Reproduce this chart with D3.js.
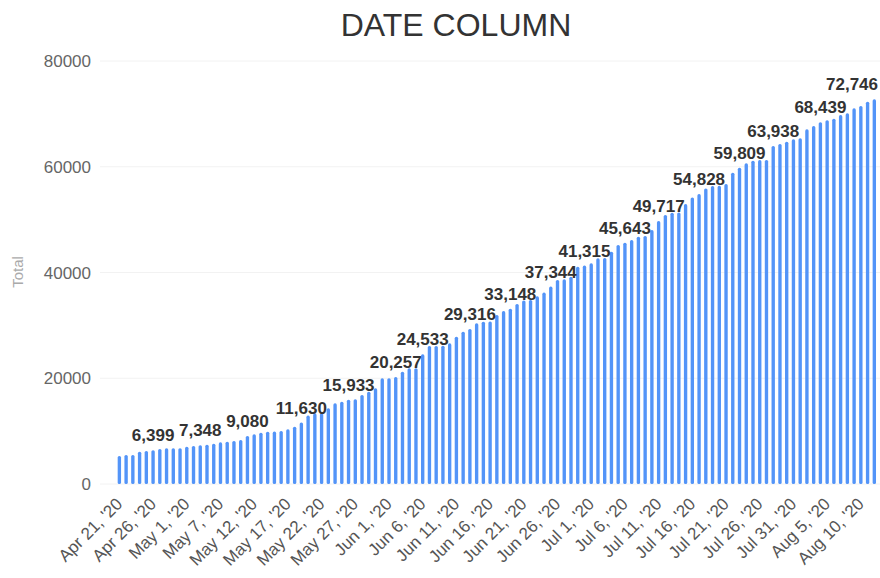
<!DOCTYPE html>
<html>
<head>
<meta charset="utf-8">
<script src="https://cdn.jsdelivr.net/npm/d3@7"></script>
<style>
  body { margin: 0; background: #fff; font-family: "Liberation Sans", Arial, sans-serif; }
</style>
</head>
<body>
<div id="chart"></div>
<script>
var days = [
  "Apr 21, '20","Apr 22, '20","Apr 23, '20","Apr 24, '20","Apr 25, '20","Apr 26, '20","Apr 27, '20","Apr 28, '20","Apr 29, '20","Apr 30, '20",
  "May 1, '20","May 2, '20","May 3, '20","May 5, '20","May 6, '20","May 7, '20","May 8, '20","May 9, '20","May 10, '20","May 11, '20",
  "May 12, '20","May 13, '20","May 14, '20","May 15, '20","May 16, '20","May 17, '20","May 18, '20","May 19, '20","May 20, '20","May 21, '20",
  "May 22, '20","May 23, '20","May 24, '20","May 25, '20","May 26, '20","May 27, '20","May 28, '20","May 29, '20","May 30, '20","May 31, '20",
  "Jun 1, '20","Jun 2, '20","Jun 3, '20","Jun 4, '20","Jun 5, '20","Jun 6, '20","Jun 7, '20","Jun 8, '20","Jun 9, '20","Jun 10, '20",
  "Jun 11, '20","Jun 12, '20","Jun 13, '20","Jun 14, '20","Jun 15, '20","Jun 16, '20","Jun 17, '20","Jun 18, '20","Jun 19, '20","Jun 20, '20",
  "Jun 21, '20","Jun 22, '20","Jun 23, '20","Jun 24, '20","Jun 25, '20","Jun 26, '20","Jun 27, '20","Jun 28, '20","Jun 29, '20","Jun 30, '20",
  "Jul 1, '20","Jul 2, '20","Jul 3, '20","Jul 4, '20","Jul 5, '20","Jul 6, '20","Jul 7, '20","Jul 8, '20","Jul 9, '20","Jul 10, '20",
  "Jul 11, '20","Jul 12, '20","Jul 13, '20","Jul 14, '20","Jul 15, '20","Jul 16, '20","Jul 17, '20","Jul 18, '20","Jul 19, '20","Jul 20, '20",
  "Jul 21, '20","Jul 22, '20","Jul 23, '20","Jul 24, '20","Jul 25, '20","Jul 26, '20","Jul 27, '20","Jul 28, '20","Jul 29, '20","Jul 30, '20",
  "Jul 31, '20","Aug 1, '20","Aug 2, '20","Aug 3, '20","Aug 4, '20","Aug 5, '20","Aug 6, '20","Aug 7, '20","Aug 8, '20","Aug 9, '20",
  "Aug 10, '20","Aug 11, '20","Aug 12, '20"
];

var totals = [
  5300, 5480, 5480, 6110, 6240, 6399, 6620, 6740, 6760, 6780,
  7060, 7190, 7348, 7440, 7620, 7880, 8000, 8150, 8320, 9080,
  9400, 9700, 9900, 9920, 10020, 10340, 10840, 11630, 12950, 13370,
  13400, 14310, 15260, 15570, 15933, 16050, 16830, 17460, 18090, 19980,
  20000, 20257, 21240, 21870, 21900, 24533, 26100, 26100, 26150, 26600,
  27860, 28800, 29316, 30390, 30700, 30750, 31960, 32700, 33148, 34040,
  34700, 34800, 35500, 36200, 37344, 38580, 38700, 39210, 41100, 41315,
  41730, 42680, 42750, 43930, 45200, 45643, 46140, 46770, 46900, 48030,
  49717, 50870, 51310, 51350, 52950, 54200, 54828, 55910, 56350, 56400,
  56730, 58870, 59809, 60640, 61140, 61270, 61300, 63938, 64300, 64740,
  65180, 65370, 67070, 67700, 68439, 68800, 69100, 69780, 70100, 71050,
  71500, 72300, 72746
];

// bars that carry a value label
var labelled = [5, 12, 19, 27, 34, 41, 45, 52, 58, 64, 69, 75, 80, 86, 92, 97, 104, 112];
var yTicks = [0, 20000, 40000, 60000, 80000];

var w = 880, h = 578;
var svg = d3.select("#chart").append("svg")
  .attr("width", w)
  .attr("height", h);

var x = d3.scaleBand()
  .domain(d3.range(totals.length))
  .range([116, 877.7])
  .paddingInner(0.5)
  .paddingOuter(0.25);

var y = d3.scaleLinear()
  .domain([0, 80000])
  .range([484, 61]);

// title
svg.append("text")
  .attr("x", 456)
  .attr("y", 36)
  .attr("text-anchor", "middle")
  .style("font-size", "32px")
  .style("fill", "#333")
  .text("DATE COLUMN");

// grid + y labels
var grid = svg.append("g");
grid.selectAll("line").data(yTicks).enter().append("line")
  .attr("x1", 100).attr("x2", 880)
  .attr("y1", d => y(d)).attr("y2", d => y(d))
  .style("stroke", "#f2f2f2")
  .style("stroke-width", 1);

grid.selectAll("text").data(yTicks).enter().append("text")
  .attr("x", 91)
  .attr("y", d => y(d) + 6)
  .attr("text-anchor", "end")
  .style("font-size", "17px")
  .style("fill", "#666")
  .text(d => d);

svg.append("text")
  .attr("transform", "translate(23,272) rotate(-90)")
  .attr("text-anchor", "middle")
  .style("font-size", "15px")
  .style("fill", "#aaa")
  .text("Total");

// bars
svg.append("g").selectAll("rect").data(totals).enter().append("rect")
  .attr("x", (d, i) => x(i))
  .attr("y", d => y(d))
  .attr("width", x.bandwidth())
  .attr("height", d => y(0) - y(d))
  .attr("rx", 1.6)
  .style("fill", "#5394f8");

// x labels, every 5th day
var xl = svg.append("g");
d3.range(0, totals.length, 5).forEach(function (i) {
  var cx = x(i) + x.bandwidth() / 2;
  xl.append("text")
    .attr("transform", "translate(" + (cx + 4) + ",505) rotate(-45)")
    .attr("text-anchor", "end")
    .style("font-size", "17px")
    .style("fill", "#555")
    .text(days[i]);
});

// value labels
var fmt = d3.format(",");
var vl = svg.append("g");
labelled.forEach(function (i) {
  var cx = x(i) + x.bandwidth() / 2;
  var t = vl.append("text")
    .attr("x", cx)
    .attr("y", y(totals[i]) - 9)
    .attr("text-anchor", "middle")
    .style("font-size", "17px")
    .style("font-weight", "bold")
    .style("fill", "#333")
    .text(fmt(totals[i]));
  var tw = t.node().getComputedTextLength();
  if (cx + tw / 2 > 878) t.attr("x", 878 - tw / 2);
});
</script>
</body>
</html>
